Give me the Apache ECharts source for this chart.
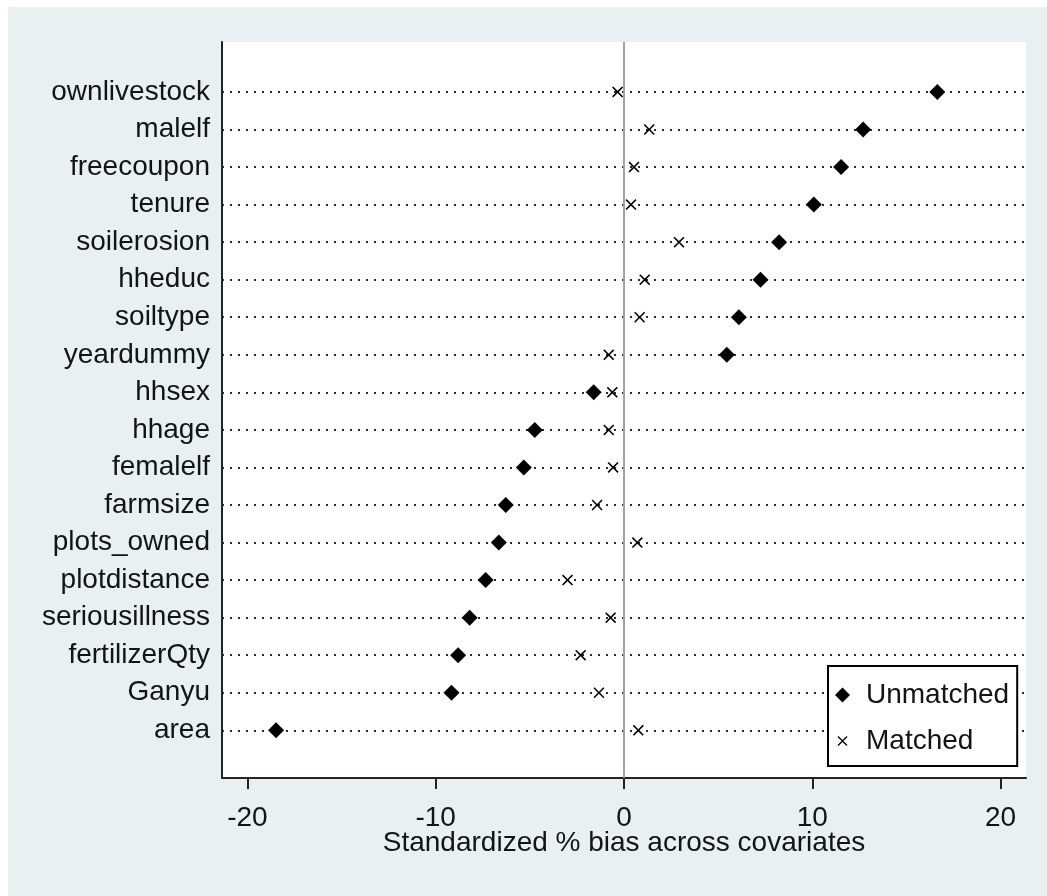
<!DOCTYPE html>
<html>
<head>
<meta charset="utf-8">
<script src="https://cdn.jsdelivr.net/npm/echarts@6/dist/echarts.min.js"></script>
<style>
  html, body { margin: 0; padding: 0; background: #ffffff; }
  #chart { position: absolute; left: 8px; top: 7px; width: 1039px; height: 889px; }
</style>
</head>
<body>
<div id="chart"></div>
<script>
// Covariates, listed top to bottom
const covariates = [
  'ownlivestock', 'malelf', 'freecoupon', 'tenure', 'soilerosion', 'hheduc',
  'soiltype', 'yeardummy', 'hhsex', 'hhage', 'femalelf', 'farmsize',
  'plots_owned', 'plotdistance', 'seriousillness', 'fertilizerQty', 'Ganyu', 'area'
];

// Standardized % bias before matching
const unmatchedBias = [
  16.64, 12.70, 11.53, 10.08, 8.24, 7.25,
  6.10, 5.46, -1.61, -4.74, -5.32, -6.28,
  -6.65, -7.35, -8.20, -8.81, -9.16, -18.48
];

// Standardized % bias after matching
const matchedBias = [
  -0.34, 1.34, 0.53, 0.37, 2.92, 1.10,
  0.83, -0.81, -0.62, -0.81, -0.58, -1.43,
  0.71, -3.00, -0.71, -2.30, -1.33, 0.76
];

const xTicks = [-20, -10, 0, 10, 20];
const xTitle = 'Standardized % bias across covariates';
const seriesNames = ['Unmatched', 'Matched'];

const FONT = 'Liberation Sans, Arial, sans-serif';
const TEXT = '#141414';
const INK = '#000000';

// "x" marker drawn as a thin filled cross
const crossPath = 'path://M0,10L10,0L50,40L90,0L100,10L60,50L100,90L90,100L50,60L10,100L0,90L40,50Z';
// same cross with extra empty room so it sits smaller inside the legend box
const crossLegendPath = 'path://M-25,-25M125,125M0,9L9,0L50,41L91,0L100,9L59,50L100,91L91,100L50,59L9,100L0,91L41,50Z';

const rowIndex = covariates.map((_, i) => i);

// Dotted guide line along every covariate row, plus the solid line at zero
const guideLines = rowIndex.map(i => ({
  yAxis: i,
  lineStyle: { type: [2, 6], color: '#2a2a2a', width: 2 }
}));
guideLines.push({ xAxis: 0, lineStyle: { type: 'solid', color: '#a3a3a3', width: 2 } });

const chart = echarts.init(document.getElementById('chart'), null, { renderer: 'canvas' });

chart.setOption({
  animation: false,
  backgroundColor: '#e8f0f2',
  grid: {
    left: 214, top: 35, right: 21, bottom: 118,
    show: true, backgroundColor: '#ffffff', borderWidth: 0
  },
  xAxis: {
    type: 'value',
    min: -21.35,
    max: 21.35,
    splitLine: { show: false },
    axisLine: { show: true, onZero: false, lineStyle: { color: '#222222', width: 2 } },
    axisTick: { show: true, customValues: xTicks, length: 11, lineStyle: { color: '#222222', width: 2 } },
    axisLabel: {
      customValues: xTicks,
      formatter: v => String(v),
      fontSize: 28, fontFamily: FONT, color: TEXT, margin: 26
    },
    name: xTitle,
    nameLocation: 'middle',
    nameGap: 51,
    nameMoveOverlap: false,
    nameTextStyle: { fontSize: 28, fontFamily: FONT, color: TEXT }
  },
  yAxis: {
    type: 'value',
    inverse: true,
    min: -1.33,
    max: 18.27,
    splitLine: { show: false },
    axisTick: { show: false },
    axisLine: { show: true, onZero: false, lineStyle: { color: '#222222', width: 2 } },
    axisLabel: {
      customValues: rowIndex,
      formatter: v => covariates[Math.round(v)],
      fontSize: 28, fontFamily: FONT, color: TEXT, margin: 12
    }
  },
  legend: {
    orient: 'vertical',
    left: 820,
    top: 659,
    padding: [14, 8, 10, 7],
    itemGap: 16,
    itemWidth: 15,
    itemHeight: 15,
    backgroundColor: '#ffffff',
    borderColor: '#000000',
    borderWidth: 2,
    borderRadius: 0,
    textStyle: { fontSize: 28, fontFamily: FONT, color: TEXT, lineHeight: 30, padding: [0, 0, 0, 11] },
    data: [
      { name: seriesNames[0], icon: 'diamond' },
      { name: seriesNames[1], icon: crossLegendPath }
    ]
  },
  series: [
    {
      name: seriesNames[0],
      type: 'scatter',
      symbol: 'diamond',
      symbolSize: 16,
      symbolKeepAspect: true,
      itemStyle: { color: INK, opacity: 1 },
      z: 4,
      data: unmatchedBias.map((v, i) => [v, i]),
      markLine: {
        silent: true,
        z: 1,
        symbol: ['none', 'none'],
        label: { show: false },
        emphasis: { disabled: true },
        data: guideLines
      }
    },
    {
      name: seriesNames[1],
      type: 'scatter',
      symbol: crossPath,
      symbolSize: 11,
      symbolKeepAspect: true,
      itemStyle: { color: INK, opacity: 1 },
      z: 4,
      data: matchedBias.map((v, i) => [v, i])
    }
  ]
});
</script>
</body>
</html>
